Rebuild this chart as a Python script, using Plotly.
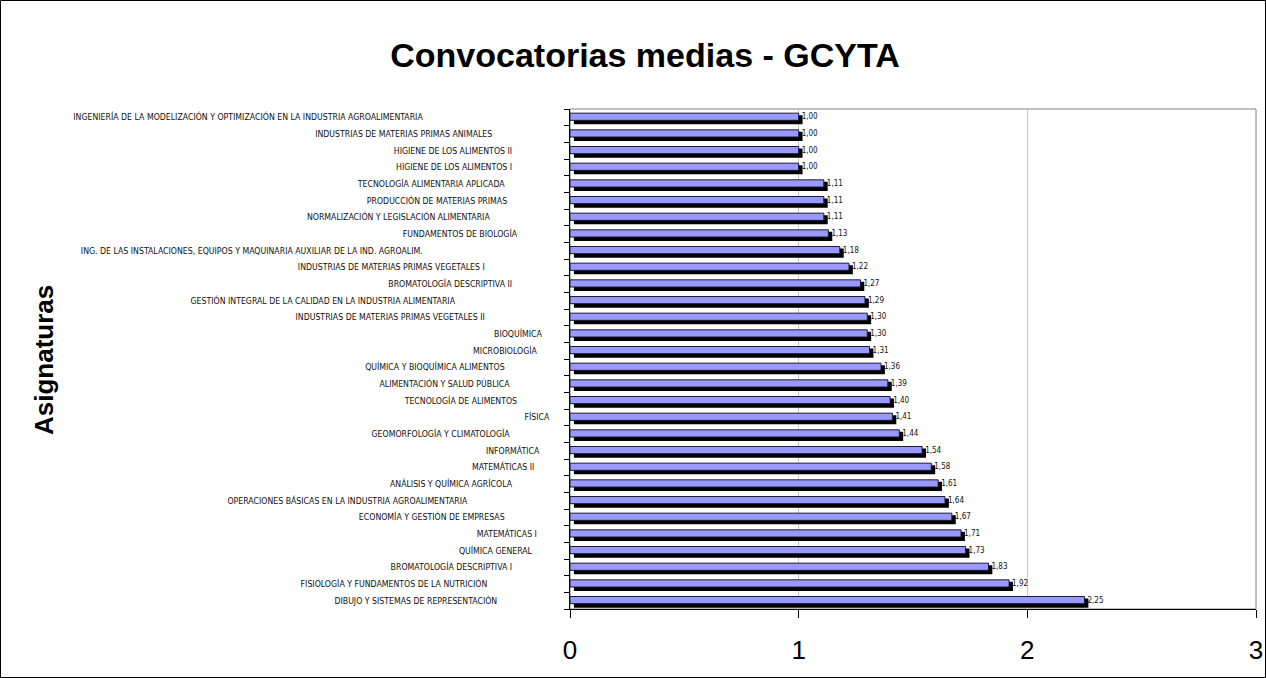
import plotly.graph_objects as go

subjects = [
    "INGENIERÍA DE LA MODELIZACIÓN Y OPTIMIZACIÓN EN LA INDUSTRIA AGROALIMENTARIA",
    "INDUSTRIAS DE MATERIAS PRIMAS ANIMALES",
    "HIGIENE DE LOS ALIMENTOS II",
    "HIGIENE DE LOS ALIMENTOS I",
    "TECNOLOGÍA ALIMENTARIA APLICADA",
    "PRODUCCIÓN DE MATERIAS PRIMAS",
    "NORMALIZACIÓN Y LEGISLACIÓN ALIMENTARIA",
    "FUNDAMENTOS DE BIOLOGÍA",
    "ING. DE LAS INSTALACIONES, EQUIPOS Y MAQUINARIA AUXILIAR DE LA IND. AGROALIM.",
    "INDUSTRIAS DE MATERIAS PRIMAS VEGETALES I",
    "BROMATOLOGÍA DESCRIPTIVA II",
    "GESTIÓN INTEGRAL DE LA CALIDAD EN LA INDUSTRIA ALIMENTARIA",
    "INDUSTRIAS DE MATERIAS PRIMAS VEGETALES II",
    "BIOQUÍMICA",
    "MICROBIOLOGÍA",
    "QUÍMICA Y BIOQUÍMICA ALIMENTOS",
    "ALIMENTACIÓN Y SALUD PÚBLICA",
    "TECNOLOGÍA DE ALIMENTOS",
    "FÍSICA",
    "GEOMORFOLOGÍA Y CLIMATOLOGÍA",
    "INFORMÁTICA",
    "MATEMÁTICAS II",
    "ANÁLISIS Y QUÍMICA AGRÍCOLA",
    "OPERACIONES BÁSICAS EN LA INDUSTRIA AGROALIMENTARIA",
    "ECONOMÍA Y GESTIÓN DE EMPRESAS",
    "MATEMÁTICAS I",
    "QUÍMICA GENERAL",
    "BROMATOLOGÍA DESCRIPTIVA I",
    "FISIOLOGÍA Y FUNDAMENTOS DE LA NUTRICIÓN",
    "DIBUJO Y SISTEMAS DE REPRESENTACIÓN",
]

averages = [
    1.00, 1.00, 1.00, 1.00, 1.11, 1.11, 1.11, 1.13, 1.18, 1.22,
    1.27, 1.29, 1.30, 1.30, 1.31, 1.36, 1.39, 1.40, 1.41, 1.44,
    1.54, 1.58, 1.61, 1.64, 1.67, 1.71, 1.73, 1.83, 1.92, 2.25,
]

x_ticks = [0, 1, 2, 3]

W, H = 1266, 678
ML, MR, MT, MB = 570, 10, 109, 69
PW, PH = W - ML - MR, H - MT - MB

NARROW = "Liberation Sans Narrow, Arial Narrow, DejaVu Sans Condensed, sans-serif"
ARIAL = "Liberation Sans, Arial, sans-serif"


# Excel-style ragged alignment of category labels: longer labels end further
# left.  Emulated with trailing non-breaking spaces (visual styling only).
def ragged(label):
    return label + "\u00a0" * round(0.72 * len(label))


fig = go.Figure()

# 3-D style shadow (drawn first, shifted slightly right/down)
fig.add_trace(go.Bar(
    x=averages, y=subjects, orientation="h",
    base=0.017, offset=-0.13, width=0.55,
    marker=dict(color="#000000", line=dict(width=0)),
    hoverinfo="skip", showlegend=False,
))

# front face
fig.add_trace(go.Bar(
    x=averages, y=subjects, orientation="h",
    offset=-0.25, width=0.43,
    marker=dict(color="#9999FF", line=dict(color="#1a1a33", width=1)),
    texttemplate="%{x:.2f}", textposition="outside",
    textfont=dict(family=NARROW, size=8, color="#111111"),
    constraintext="none", cliponaxis=False, showlegend=False,
))

fig.update_layout(
    width=W, height=H,
    autosize=False,
    margin=dict(l=ML, r=MR, t=MT, b=MB, pad=0, autoexpand=False),
    paper_bgcolor="white", plot_bgcolor="white",
    barmode="overlay",
    separators=",.",
    showlegend=False,
    title=dict(
        text="<b>Convocatorias medias - GCYTA</b>",
        font=dict(family=ARIAL, size=34, color="black"),
        xref="container", yref="container",
        x=645 / W, y=1 - 55 / H, xanchor="center", yanchor="middle",
    ),
    xaxis=dict(
        range=[0, 3], tickvals=x_ticks, ticktext=[str(v) for v in x_ticks],
        automargin=False,
        showgrid=True, gridcolor="#c8c8c8", gridwidth=1,
        showline=True, linecolor="black", linewidth=1,
        ticks="outside", ticklen=8, tickcolor="black",
        tickfont=dict(family=ARIAL, size=26, color="black"),
        ticklabelstandoff=10, zeroline=False,
    ),
    yaxis=dict(
        type="category", categoryorder="array", categoryarray=subjects,
        tickvals=subjects, ticktext=[ragged(s) for s in subjects],
        range=[len(subjects) - 0.5, -0.5],
        automargin=False,
        showline=True, linecolor="black", linewidth=1,
        ticks="outside", ticklen=5, tickcolor="black", tickson="boundaries",
        tickfont=dict(family=NARROW, size=8.7, color="#111111"),
        ticklabelstandoff=8, showgrid=False, zeroline=False,
    ),
    shapes=[
        # plot-area frame (grey, top & right visible)
        dict(type="rect", xref="paper", yref="paper", x0=0, x1=1, y0=0, y1=1,
             line=dict(color="#808080", width=1), layer="below"),
        # outer chart border
        dict(type="rect", xref="paper", yref="paper",
             x0=(0.5 - ML) / PW, x1=1 + (MR - 0.5) / PW,
             y0=-(MB - 0.5) / PH, y1=1 + (MT - 0.5) / PH,
             line=dict(color="black", width=1)),
    ],
    annotations=[
        dict(text="<b>Asignaturas</b>", textangle=-90,
             xref="paper", yref="paper",
             x=(44 - ML) / PW, y=1 - (360 - MT) / PH,
             xanchor="center", yanchor="middle", showarrow=False,
             font=dict(family=ARIAL, size=26, color="black")),
    ],
)

fig.write_html(
    "out.html",
    config={"displayModeBar": False},
    post_script="document.body.style.margin='0';document.body.style.padding='0';",
)
